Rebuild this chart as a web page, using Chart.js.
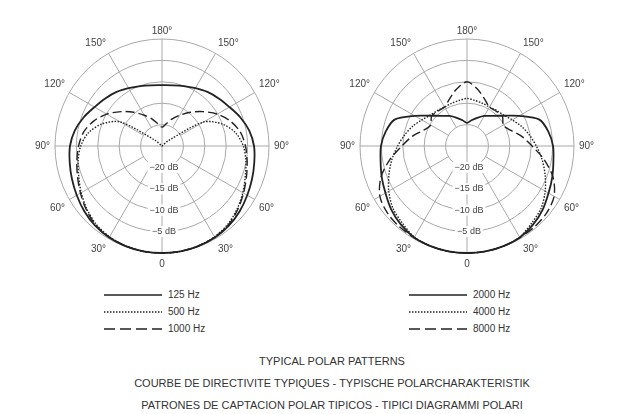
<!DOCTYPE html>
<html lang="en">
<head>
<meta charset="UTF-8">
<title>Typical polar patterns</title>
<script src="https://cdn.jsdelivr.net/npm/chart.js"></script>
<style>
    body { margin: 0; background: #fff; width: 639px; height: 414px; position: relative; overflow: hidden;
           font-family: "Liberation Sans", Arial, sans-serif; color: #333; }
    canvas.polar { position: absolute; top: 23px; }
    .legend { position: absolute; top: 288px; font-size: 10px; }
    .legend .row { position: absolute; left: 0; height: 14px; white-space: nowrap; }
    .legend svg { position: absolute; left: 0; top: 0; }
    .legend span { position: absolute; top: 0; line-height: 14px; }
    .caption { position: absolute; left: 332px; transform: translateX(-50%); font-size: 11px;
               white-space: nowrap; line-height: 14px; }
</style>
</head>
<body>
    <canvas id="polarLeft" class="polar" width="300" height="248" style="left:12px"></canvas>
    <canvas id="polarRight" class="polar" width="300" height="248" style="left:317px"></canvas>
    <div id="legendLeft" class="legend" style="left:104px"></div>
    <div id="legendRight" class="legend" style="left:409px"></div>
    <div class="caption" style="top:354px">TYPICAL POLAR PATTERNS</div>
    <div class="caption" style="top:376px">COURBE DE DIRECTIVITE TYPIQUES - TYPISCHE POLARCHARAKTERISTIK</div>
    <div class="caption" style="top:398px">PATRONES DE CAPTACION POLAR TIPICOS - TIPICI DIAGRAMMI POLARI</div>

    <script>
        // angle around the mic, 0..350 in 10 degree steps (0 at the bottom)
        var angleLabels = ['0', '', '', '30°', '', '', '60°', '', '', '90°', '', '', '120°', '', '', '150°', '', '',
                           '180°', '', '', '150°', '', '', '120°', '', '', '90°', '', '', '60°', '', '', '30°', '', ''];

        var dbTicks = [-20, -15, -10, -5];
        var dbTickLabels = ['\u221220 dB', '\u221215 dB', '\u221210 dB', '\u22125 dB'];

        var leftNames = ['125 Hz', '500 Hz', '1000 Hz'];
        var rightNames = ['2000 Hz', '4000 Hz', '8000 Hz'];

        // response in dB
        var db125 = [0, 0, -0.1, -0.3, -0.7, -1.3, -2.0, -2.6, -3.1, -3.5, -4.3, -5.5, -6.8, -7.7, -8.5, -9.4, -10.1, -10.6,
                     -10.8, -10.6, -10.1, -9.4, -8.5, -7.7, -6.8, -5.5, -4.3, -3.5, -3.1, -2.6, -2.0, -1.3, -0.7, -0.3, -0.1, 0];
        var db500 = [0, 0, -0.15, -0.5, -1.1, -2.1, -3.2, -4.3, -5.1, -6.0, -7.5, -10.0, -13.8, -23, -25, -25, -25, -25,
                     -25, -25, -25, -25, -25, -23, -13.8, -10.0, -7.5, -6.0, -5.1, -4.3, -3.2, -2.1, -1.1, -0.5, -0.15, 0];
        var db1000 = [0, 0, -0.15, -0.4, -0.9, -1.9, -3.0, -4.0, -4.8, -5.5, -6.4, -8.0, -10.1, -12.5, -14.7, -16.7, -18.3, -19.8,
                      -20.6, -19.8, -18.3, -16.7, -14.7, -12.5, -10.1, -8.0, -6.4, -5.5, -4.8, -4.0, -3.0, -1.9, -0.9, -0.4, -0.15, 0];
        var db2000 = [0, 0, -0.1, -0.3, -1.0, -1.9, -3.0, -3.8, -4.5, -4.9, -5.7, -7.0, -10.9, -14.0, -15.8, -16.9, -18.0, -18.9,
                      -19.6, -18.9, -18.0, -16.9, -15.8, -14.0, -10.9, -7.0, -5.7, -4.9, -4.5, -3.8, -3.0, -1.9, -1.0, -0.3, -0.1, 0];
        var db4000 = [0, 0, -0.1, -0.4, -1.5, -2.4, -3.9, -5.6, -7.2, -8.8, -10.2, -11.5, -12.8, -13.8, -14.2, -14.5, -14.4, -14.2,
                      -13.9, -14.2, -14.4, -14.5, -14.2, -13.8, -12.8, -11.5, -10.2, -8.8, -7.2, -5.6, -3.9, -2.4, -1.5, -0.4, -0.1, 0];
        var db8000 = [0, 0, -0.1, -0.3, -0.4, -0.7, -1.5, -3.6, -6.7, -9.8, -12.0, -14.2, -15.2, -14.2, -14.4, -14.5, -13.2, -11.4,
                      -10.0, -11.4, -13.2, -14.5, -14.4, -14.2, -15.2, -14.2, -12.0, -9.8, -6.7, -3.6, -1.5, -0.7, -0.4, -0.3, -0.1, 0];

        var lineStyles = [
            { width: 1.8, dash: [] },
            { width: 1.4, dash: [1.5, 1.5] },
            { width: 1.4, dash: [9, 4] }
        ];
        var legendDash = ['', '1.5 1.5', '11 5'];

        var gridColor = '#a8a8a8';
        var fontFamily = '"Liberation Sans", Arial, sans-serif';

        // dB labels go down the 0 degree axis, upright
        var dbLabels = {
            id: 'dbLabels',
            beforeDatasetsDraw: function (chart) {
                var r = chart.scales.r;
                var ctx = chart.ctx;
                ctx.save();
                ctx.font = '9px ' + fontFamily;
                ctx.textAlign = 'center';
                ctx.textBaseline = 'middle';
                dbTicks.forEach(function (v, i) {
                    var y = r.yCenter + r.getDistanceFromCenterForValue(v);
                    var w = ctx.measureText(dbTickLabels[i]).width;
                    ctx.fillStyle = '#fff';
                    ctx.fillRect(r.xCenter + 2 - w / 2 - 2, y - 5.5, w + 4, 11);
                    ctx.fillStyle = '#444';
                    ctx.fillText(dbTickLabels[i], r.xCenter + 2, y);
                });
                ctx.restore();
            }
        };

        function makeChart(id, names, series) {
            var ctx = document.getElementById(id).getContext('2d');
            return new Chart(ctx, {
                type: 'radar',
                data: {
                    labels: angleLabels,
                    datasets: series.map(function (d, i) {
                        return {
                            label: names[i],
                            data: d,
                            fill: false,
                            borderColor: '#222',
                            borderWidth: lineStyles[i].width,
                            borderDash: lineStyles[i].dash,
                            pointRadius: 0,
                            tension: 0.3
                        };
                    })
                },
                options: {
                    responsive: false,
                    animation: false,
                    events: [],
                    plugins: { legend: { display: false }, tooltip: { enabled: false } },
                    scales: {
                        r: {
                            min: -25,
                            max: 0,
                            startAngle: 180,
                            ticks: { display: false, stepSize: 5 },
                            grid: { circular: true, color: gridColor, lineWidth: 1 },
                            angleLines: {
                                color: function (c) { return c.index % 3 === 0 ? gridColor : 'rgba(0,0,0,0)'; },
                                lineWidth: function (c) { return c.index % 3 === 0 ? 1 : 0; },
                                borderDash: function (c) {
                                    // only the main axes cross the centre ring
                                    if (c.index % 9 === 0) return [];
                                    return [0, c.chart.scales.r.drawingArea / 5, 1000];
                                }
                            },
                            pointLabels: {
                                font: { family: fontFamily, size: 10 },
                                color: '#444',
                                padding: function (c) { return c.index === 18 ? 2 : 5; }
                            }
                        }
                    }
                },
                plugins: [dbLabels]
            });
        }

        function makeLegend(id, names) {
            var box = document.getElementById(id);
            names.forEach(function (n, i) {
                var row = document.createElement('div');
                row.className = 'row';
                row.style.top = (i * 17) + 'px';
                row.innerHTML = '<svg width="60" height="14"><line x1="0" y1="7" x2="58" y2="7" stroke="#222" stroke-width="' +
                    (i === 0 ? 1.6 : 1.4) + '"' + (legendDash[i] ? ' stroke-dasharray="' + legendDash[i] + '"' : '') +
                    '/></svg><span style="left:64px">' + n + '</span>';
                box.appendChild(row);
            });
        }

        var leftChart = makeChart('polarLeft', leftNames, [db125, db500, db1000]);
        var rightChart = makeChart('polarRight', rightNames, [db2000, db4000, db8000]);
        makeLegend('legendLeft', leftNames);
        makeLegend('legendRight', rightNames);
    </script>
</body>
</html>
